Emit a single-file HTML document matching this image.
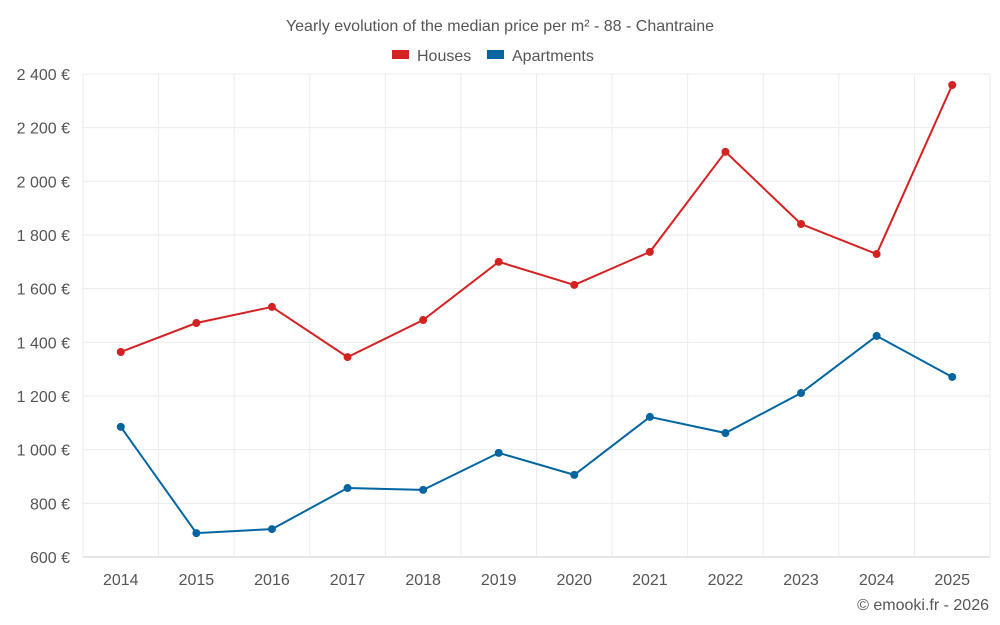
<!DOCTYPE html>
<html><head><meta charset="utf-8"><style>
body{margin:0;background:#fff;}
svg{display:block;font-family:"Liberation Sans",sans-serif;}
</style></head><body>
<svg id="chart" width="1000" height="625" viewBox="0 0 1000 625">
<text x="500" y="31" text-anchor="middle" font-size="16" fill="#555">Yearly evolution of the median price per m² - 88 - Chantraine</text>
<g>
<g><rect x="392" y="50" width="17" height="9" fill="#d42121"/><text x="417" y="61" font-size="16" fill="#555">Houses</text></g>
<g><rect x="487" y="50" width="17" height="9" fill="#0065a0"/><text x="512" y="61" font-size="16" fill="#555">Apartments</text></g>
</g>
<g id="grid"></g><g id="axes"></g><g id="series"></g>
<text x="989" y="610" text-anchor="end" font-size="16" fill="#555">© emooki.fr - 2026</text>
</svg>
<script>
const years=[2014,2015,2016,2017,2018,2019,2020,2021,2022,2023,2024,2025];
const houses=[1364,1472,1532,1345,1483,1700,1614,1737,2110,1841,1729,2359];
const apartments=[1085,689,704,857,850,988,906,1122,1062,1211,1424,1271];
const yTicks=[600,800,1000,1200,1400,1600,1800,2000,2200,2400];
const L=83,R=990,T=74,B=557,ymin=600,ymax=2400;
const NS="http://www.w3.org/2000/svg";
const bw=(R-L)/years.length;
const xs=i=>L+bw*(i+0.5);
const ys=v=>B-(v-ymin)/(ymax-ymin)*(B-T);
function mk(t,a,p){const e=document.createElementNS(NS,t);for(const k in a)e.setAttribute(k,a[k]);p.appendChild(e);return e;}
const grid=document.getElementById('grid'),axes=document.getElementById('axes'),ser=document.getElementById('series');
yTicks.forEach(v=>{
 const l=mk('line',{x1:L,x2:R,y1:ys(v),y2:ys(v),stroke:v===ymin?'#ccc':'#ebebeb','stroke-width':1},grid);
 
 
 const t=mk('text',{x:70,y:ys(v)+6,'text-anchor':'end','font-size':16,fill:'#555'},axes);
 t.textContent=v.toLocaleString('fr-FR').replace(/\s/g,' ')+' €';
 
 
});
for(let i=0;i<=years.length;i++){
 const l=mk('line',{x1:L+bw*i,x2:L+bw*i,y1:T,y2:B,stroke:'#ebebeb','stroke-width':1},grid);
 
 
}
years.forEach((y,i)=>{
 const t=mk('text',{x:xs(i),y:585,'text-anchor':'middle','font-size':16,fill:'#555'},axes);
 t.textContent=y;
 
 
});
function draw(vals,col,name){
 const p=mk('polyline',{points:vals.map((v,i)=>xs(i)+','+ys(v)).join(' '),fill:'none',stroke:col,'stroke-width':2},ser);
 
 
 vals.forEach((v,i)=>{
  const c=mk('circle',{cx:xs(i),cy:ys(v),r:4,fill:col},ser);
  
  
 });
}
draw(houses,'#d42121','houses');
draw(apartments,'#0065a0','apartments');
</script>
</body></html>
